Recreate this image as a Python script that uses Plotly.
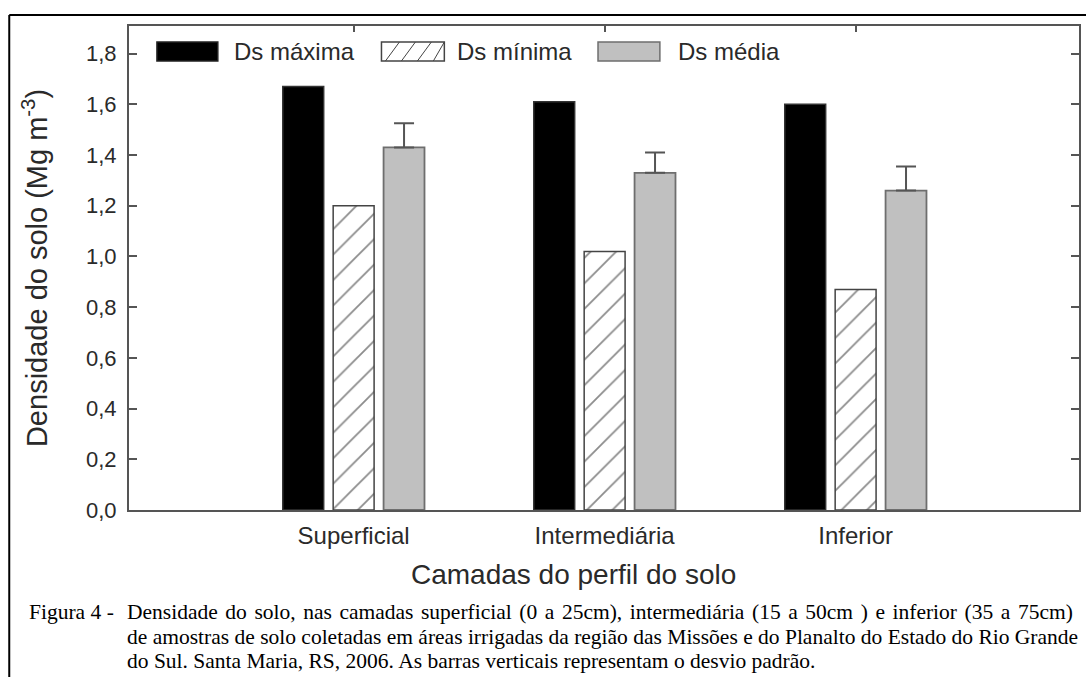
import plotly.graph_objects as go

# ---- data ----
categories = ["Superficial", "Intermediária", "Inferior"]
ds_maxima = [1.67, 1.61, 1.60]
ds_minima = [1.20, 1.02, 0.87]
ds_media = [1.43, 1.33, 1.26]
ds_media_sd = [0.095, 0.08, 0.095]
y_tickvals = [0.0, 0.2, 0.4, 0.6, 0.8, 1.0, 1.2, 1.4, 1.6, 1.8]
series_names = ["Ds máxima", "Ds mínima", "Ds média"]
x_title = "Camadas do perfil do solo"
y_title = "Densidade do solo (Mg m<sup>-3</sup>)"

W, H = 1086, 677
L, R, T, B = 129, 1081, 26, 510  # plot area in pixels


def px(x):
    return (x - L) / (R - L)


def py(y):
    return (B - y) / (B - T)


AX = "#555555"
TXT = "#2a2a2a"
SANS = "Liberation Sans, Arial, sans-serif"
SERIF = "Liberation Serif, Times New Roman, serif"

fig = go.Figure()
fig.add_trace(go.Bar(
    x=categories, y=ds_maxima, name=series_names[0],
    marker=dict(color="black", line=dict(color="#333333", width=1.5)),
    showlegend=False,
))
fig.add_trace(go.Bar(
    x=categories, y=ds_minima, name=series_names[1],
    marker=dict(color="white", line=dict(color="#444444", width=1.5),
                pattern=dict(shape="/", fgcolor="#1a1a1a", bgcolor="white",
                             size=18, solidity=0.1, fillmode="overlay")),
    showlegend=False,
))
fig.add_trace(go.Bar(
    x=categories, y=ds_media, name=series_names[2],
    marker=dict(color="#c0c0c0", line=dict(color="#6e6e6e", width=1.8)),
    error_y=dict(type="data", array=ds_media_sd, arrayminus=[0] * len(ds_media_sd),
                 symmetric=False, color="#555555", thickness=2, width=10),
    showlegend=False,
))

shapes = []
annotations = []

# outer figure frame (left and top edges)
shapes.append(dict(type="line", xref="paper", yref="paper",
                   x0=px(9), x1=px(9), y0=py(15), y1=py(690),
                   line=dict(color="black", width=2)))
shapes.append(dict(type="line", xref="paper", yref="paper",
                   x0=px(9), x1=px(1095), y0=py(15), y1=py(15),
                   line=dict(color="black", width=2)))

# custom legend
sw_top, sw_bot = 42, 61
legend_items = [
    (157, 218, 232, "black", "#222222"),
    (382, 445, 456, "white", "#444444"),
    (599, 661, 677, "#c0c0c0", "#6e6e6e"),
]
for i, (x0, x1, tx, fill, edge) in enumerate(legend_items):
    shapes.append(dict(type="rect", xref="paper", yref="paper",
                       x0=px(x0), x1=px(x1), y0=py(sw_bot), y1=py(sw_top),
                       fillcolor=fill, line=dict(color=edge, width=1.5)))
    if i == 1:
        for k in range(4):
            a = x0 + 4 + k * 16
            b = min(a + 14, x1)
            shapes.append(dict(type="line", xref="paper", yref="paper",
                               x0=px(a), x1=px(b), y0=py(sw_bot), y1=py(sw_top),
                               line=dict(color="#444444", width=1)))
    annotations.append(dict(xref="paper", yref="paper", x=px(tx), y=py(51.5),
                            xanchor="left", yanchor="middle", showarrow=False,
                            text=series_names[i],
                            font=dict(family=SANS, size=24, color=TXT)))

# x-axis title (placed as in the original, slightly left of centre)
annotations.append(dict(xref="paper", yref="paper", x=px(574), y=py(574),
                        xanchor="center", yanchor="middle", showarrow=False,
                        text=x_title, font=dict(family=SANS, size=28, color=TXT)))

# caption
cap_font = dict(family=SERIF, size=21.5, color="black")
annotations.append(dict(xref="paper", yref="paper", x=px(27), y=py(612),
                        xanchor="left", yanchor="middle", showarrow=False,
                        text="Figura 4 -", font=cap_font))
cap_lines = [
    ('<span style="word-spacing:2.2px">Densidade do solo, nas camadas superficial (0 a 25cm), '
     'intermediária (15 a 50cm ) e inferior (35 a 75cm)</span>', 612),
    ("de amostras de solo coletadas em áreas irrigadas da região das Missões e do Planalto do Estado do Rio Grande", 637),
    ("do Sul. Santa Maria, RS, 2006. As barras verticais representam o desvio padrão.", 661),
]
for text, yy in cap_lines:
    annotations.append(dict(xref="paper", yref="paper", x=px(125), y=py(yy),
                            xanchor="left", yanchor="middle", showarrow=False,
                            text=text, font=cap_font))

fig.update_layout(
    width=W, height=H,
    margin=dict(l=L, r=W - R, t=T, b=H - B),
    paper_bgcolor="white", plot_bgcolor="white",
    barmode="group", bargap=0.3976, bargroupgap=0.188,
    separators=",.",
    shapes=shapes, annotations=annotations,
    showlegend=False,
    font=dict(family=SANS, color=TXT),
)
fig.update_xaxes(
    type="category", range=[-0.895, 2.89],
    showline=True, linecolor=AX, linewidth=2, mirror="ticks",
    ticks="inside", ticklen=6, tickwidth=1.5, tickcolor=AX,
    tickfont=dict(family=SANS, size=24, color=TXT),
    ticklabelstandoff=3,
    showgrid=False, layer="below traces",
)
fig.update_yaxes(
    range=[0, 1.909], tickvals=y_tickvals, tickformat=".1f",
    showline=True, linecolor=AX, linewidth=2, mirror="ticks",
    ticks="inside", ticklen=8, tickwidth=1.5, tickcolor=AX,
    tickfont=dict(family=SANS, size=22, color=TXT),
    ticklabelstandoff=6,
    title=dict(text=y_title, standoff=30,
               font=dict(family=SANS, size=29, color=TXT)),
    showgrid=False, zeroline=False,
)

fig.write_html("out.html", config={"displayModeBar": False},
               post_script="document.body.style.margin='0';")
